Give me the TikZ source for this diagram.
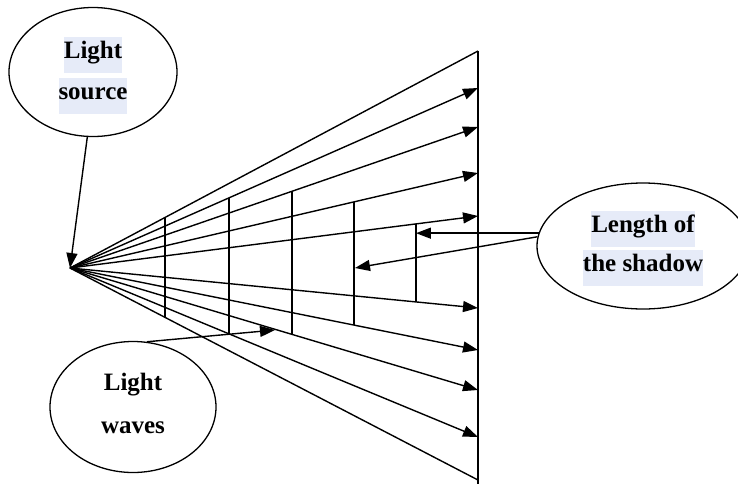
\documentclass[tikz,border=0pt]{standalone}
\usepackage{fontspec}
\setmainfont{Liberation Serif}
\usetikzlibrary{arrows.meta,shapes.geometric,calc}
\definecolor{hl}{HTML}{E6EBF8}
\begin{document}
\begin{tikzpicture}[x=1pt,y=-1pt,
  ray/.style={line width=1.4pt},
  arr/.style={ray,-{Triangle[length=15pt,width=11pt]}},
  bubble/.style={ellipse,draw,line width=1.3pt,inner sep=0},
  lbl/.style={font=\fontsize{25}{28}\selectfont\bfseries,inner sep=0},
  hlbl/.style={lbl,fill=hl,text height=21pt,text depth=15pt}
]
\useasboundingbox (0,0) rectangle (738,485);
\coordinate (S) at (70,268);
\foreach \n/\y in {1/51,2/88,3/127,4/173,5/216,6/308,7/350,8/390,9/437,10/480}
  \coordinate (E\n) at (478,\y);
\coordinate (Bot) at (478,484);
% screen
\draw[line width=1.8pt] (E1) -- (Bot);
% rays
\draw[ray] (S) -- (E1);
\foreach \n in {2,...,9} \draw[arr] (S) -- (E\n);
\draw[ray] (S) -- (E10);
% wave fronts
\foreach \b/\f/\t/\u in {1/0.2328/1/10,2/0.3897/2/9,3/0.5441/3/8,4/0.6961/4/7,5/0.8480/5/6}{
  \coordinate (B\b t) at ($(S)!\f!(E\t)$);
  \coordinate (B\b b) at ($(S)!\f!(E\u)$);
  \draw[ray] (B\b t) -- (B\b b);
}
% bubbles
\node[bubble,minimum width=168pt,minimum height=129pt] (ls) at (93,72) {};
\node[hlbl] (ls1) at (93,55) {Light};
\node[hlbl] (ls2) at (93,96) {source};
\node[bubble,minimum width=212pt,minimum height=126pt] (sh) at (643,246) {};
\node[hlbl] (sh1) at (643,229) {Length of};
\node[hlbl] (sh2) at (643,268) {the shadow};
\node[bubble,minimum width=166pt,minimum height=131pt] (lw) at (133,407) {};
\node[lbl] (lw1) at (133,385) {Light};
\node[lbl] (lw2) at (133,428) {waves};
% connectors
\coordinate (T4) at (355,268);
\coordinate (T3) at (275,330);
\draw[arr] (ls.265) -- (S);
\draw[arr] (sh.173) -- (sh.173 -| B5t);
\draw[arr] (sh.175) -- (T4);
\draw[arr] (lw.78) -- (T3);
\end{tikzpicture}
\end{document}
